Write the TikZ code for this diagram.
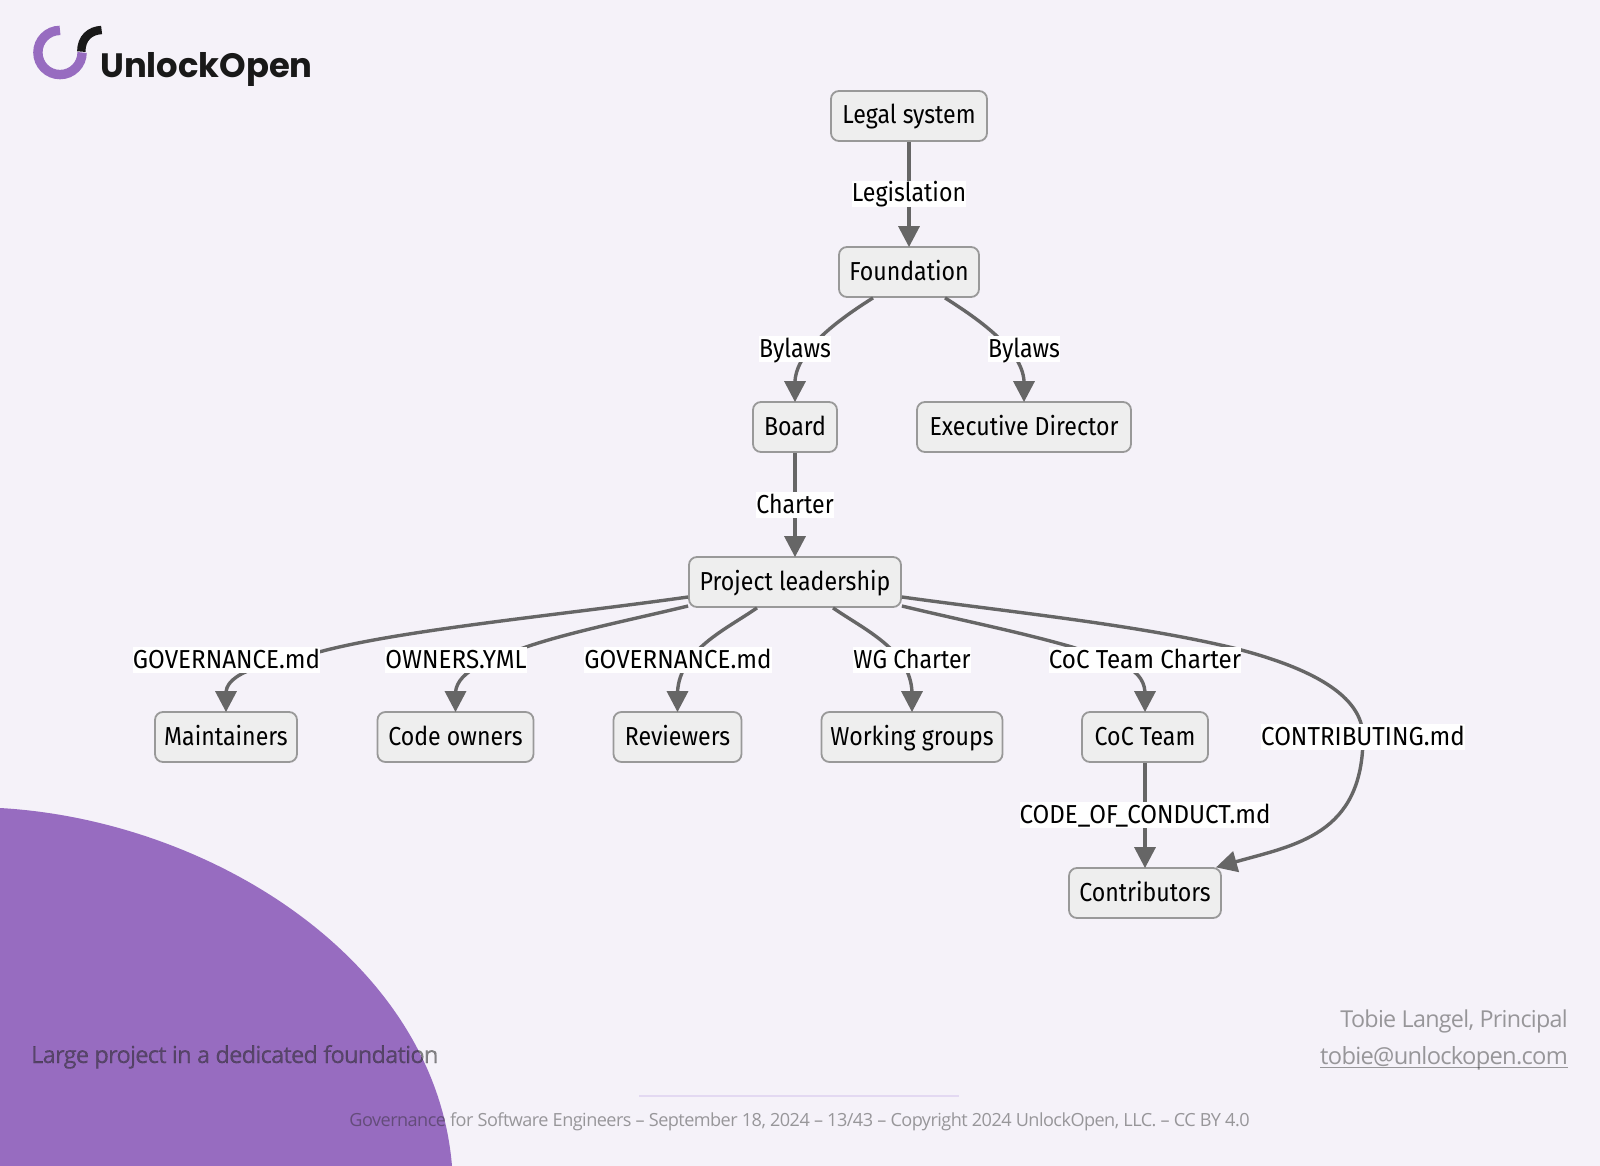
\documentclass[tikz,border=0pt]{standalone}
\usepackage{fontspec}
\usetikzlibrary{arrows.meta,calc}
\setmainfont{Fira Sans}
\newfontfamily\diagfont[FakeStretch=0.89]{Fira Sans}
\newfontfamily\capsfont[FakeStretch=0.93]{Fira Sans}
\newfontfamily\footfont[LetterSpace=-3]{Open Sans}
\newfontfamily\captionfont[LetterSpace=-3,FakeBold=0.35]{Open Sans}
\newfontfamily\brandfont{Poppins}
\definecolor{pagebg}{HTML}{F5F2F9}
\definecolor{blobc}{HTML}{976CC0}
\definecolor{rulec}{HTML}{E3D9F2}
\definecolor{edgec}{HTML}{666666}
\definecolor{boxline}{HTML}{999999}
\definecolor{boxfill}{HTML}{EEEEEE}
\tikzset{
  x=1pt,y=-1pt,
  box/.style={draw=boxline,fill=boxfill,line width=1.8pt,rounded corners=8pt,minimum height=50pt,inner sep=0pt,text height=20pt,text depth=4pt,font=\diagfont\fontsize{26}{28}\selectfont,text=black},
  edgelabel/.style={fill=white,inner sep=0pt,text height=21pt,text depth=5pt,font=\diagfont\fontsize{26}{28}\selectfont,text=black},
  capslabel/.style={edgelabel,font=\capsfont\fontsize{26}{28}\selectfont},
  flow/.style={draw=edgec,line width=3.4pt,shorten >=-1pt,-{Triangle[width=21pt,length=21pt]}},
  footnote/.style={inner sep=0pt,text=black!85,text opacity=0.45},
}
\begin{document}
\begin{tikzpicture}
\useasboundingbox (0,0) rectangle (1600,1166);
\fill[pagebg] (0,0) rectangle (1600,1166);

% corner blob
\fill[blobc] (0,808) .. controls (210,820) and (435,960) .. (452,1166) -- (0,1166) -- cycle;

% logo
\draw[blobc,line width=9.4pt] (60,30.4) arc [start angle=-90,delta angle=-270,radius=22.1];
\draw[black!90,line width=8.4pt] (81.3,51.6) .. controls (81.3,38) and (90,30.5) .. (101.6,30);
\node[anchor=base west,inner sep=0pt,font=\brandfont\bfseries\fontsize{33.8}{35}\selectfont,text=black!90] (brand) at (100,78) {UnlockOpen};

% nodes
\node[box,minimum width=156pt] (legal) at (909,116) {Legal system};
\node[box,minimum width=140pt] (foundation) at (909,272) {Foundation};
\node[box,minimum width=84pt] (board) at (795,427) {Board};
\node[box,minimum width=214pt] (exec) at (1024,427) {Executive Director};
\node[box,minimum width=212pt] (lead) at (795,582) {Project leadership};
\node[box,minimum width=142pt] (maint) at (226,737) {Maintainers};
\node[box,minimum width=156pt] (owners) at (455.5,737) {Code owners};
\node[box,minimum width=128pt] (review) at (677.5,737) {Reviewers};
\node[box,minimum width=181pt] (wg) at (912,737) {Working groups};
\node[box,minimum width=126pt] (coc) at (1145,737) {CoC Team};
\node[box,minimum width=152pt] (contrib) at (1145,893) {Contributors};

% connectors
\draw[flow] (legal) -- (foundation);
\draw[flow] (board) -- (lead);
\draw[flow] (coc) -- (contrib);
\draw[flow] ([xshift=-36pt]foundation.south) .. controls (838,320) and (797,350) .. (795,381) -- (board.north);
\draw[flow] ([xshift=36pt]foundation.south) .. controls (980,320) and (1022,350) .. (1024,381) -- (exec.north);
\draw[flow] (lead.west |- 0,597) .. controls (560,615) and (400,630) .. (319,652) .. controls (285,661) and (228,668) .. (226,692) -- (maint.north);
\draw[flow] (lead.west |- 0,606) .. controls (630,620) and (570,632) .. (526,647) .. controls (490,660) and (458,670) .. (455.5,692) -- (owners.north);
\draw[flow] ([xshift=-38pt]lead.south) .. controls (725,630) and (680,650) .. (677.5,692) -- (review.north);
\draw[flow] ([xshift=38pt]lead.south) .. controls (865,630) and (910,650) .. (912,692) -- (wg.north);
\draw[flow] (lead.east |- 0,606) .. controls (960,620) and (1020,632) .. (1072,647) .. controls (1110,660) and (1143,665) .. (1145,692) -- (coc.north);
\draw[flow] (lead.east |- 0,597) .. controls (1010,612) and (1140,625) .. (1237.5,649) .. controls (1310,668) and (1363,695) .. (1363,737) .. controls (1363,835) and (1295,845) .. ([xshift=-5pt]contrib.north east);

% connector labels
\node[edgelabel] (lLeg) at (909,194) {Legislation};
\node[edgelabel] (lBy1) at (795,349) {Bylaws};
\node[edgelabel] (lBy2) at (1024,349) {Bylaws};
\node[edgelabel] (lCh) at (795,505) {Charter};
\node[capslabel] (lGov1) at (226.5,660) {GOVERNANCE.md};
\node[capslabel] (lOwn) at (456,660) {OWNERS.YML};
\node[capslabel] (lGov2) at (678,660) {GOVERNANCE.md};
\node[edgelabel] (lWg) at (912,660) {WG Charter};
\node[capslabel] (lCoc) at (1145,660) {CoC Team Charter};
\node[capslabel] (lContr) at (1363,737) {CONTRIBUTING.md};
\node[capslabel] (lCode) at (1145,815) {CODE\_OF\_CONDUCT.md};

% footer
\node[footnote,anchor=base west,text opacity=0.55,font=\captionfont\fontsize{23.5}{26}\selectfont] (caption) at (31,1063) {Large project in a dedicated foundation};
\draw[rulec,line width=1.6pt] (639,1096) -- (959,1096);
\node[footnote,anchor=base,font=\footfont\fontsize{18.1}{22}\selectfont] (credit) at (799.5,1126) {Governance for Software Engineers – September 18, 2024 – 13/43 – Copyright 2024 UnlockOpen, LLC. – CC BY 4.0};
\node[footnote,anchor=base east,font=\footfont\fontsize{23.3}{26}\selectfont] (author) at (1568,1027) {Tobie Langel, Principal};
\node[footnote,anchor=base east,font=\footfont\fontsize{23.7}{26}\selectfont] (mail) at (1568,1064) {tobie@unlockopen.com};
\draw[black!85,opacity=0.45,line width=1.6pt] ($(mail.base west)+(0,3.5)$) -- ($(mail.base east)+(0,3.5)$);
\end{tikzpicture}
\end{document}
